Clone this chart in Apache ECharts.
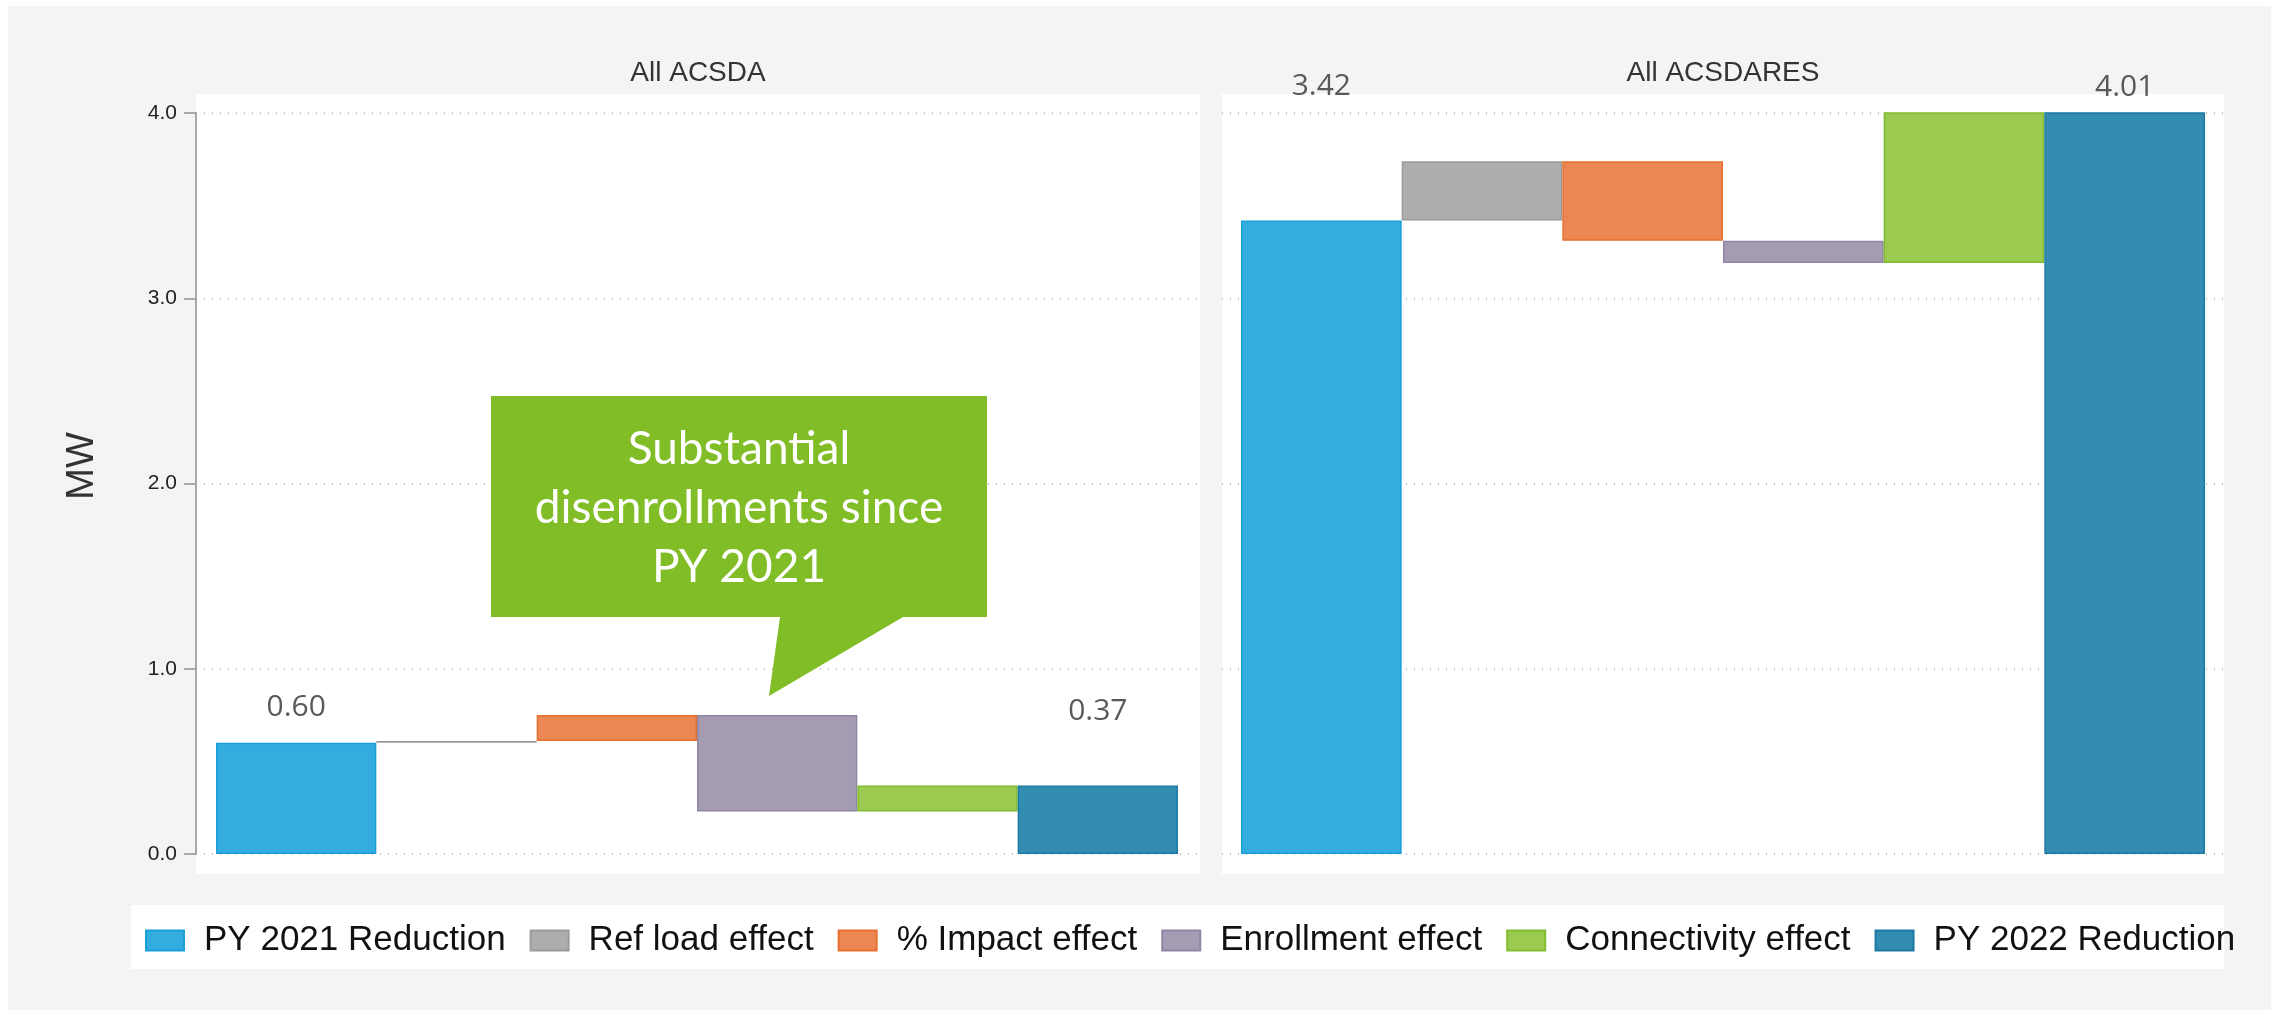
<!DOCTYPE html>
<html>
<head>
<meta charset="utf-8">
<style>
  html, body { margin: 0; padding: 0; background: #ffffff; }
  #chart { width: 2279px; height: 1012px; }
</style>
<script src="https://cdn.jsdelivr.net/npm/echarts@6/dist/echarts.min.js"></script>
</head>
<body>
<div id="chart"></div>
<script>
// ---- data ----
const categories = ['PY 2021 Reduction', 'Ref load effect', '% Impact effect', 'Enrollment effect', 'Connectivity effect', 'PY 2022 Reduction'];
const panelTitles = ['All ACSDA', 'All ACSDARES'];
// first and last entries are totals, the ones between are step changes (MW)
const acsdaValues = [0.60, 0.01, 0.14, -0.52, 0.14, 0.37];
const acsdaresValues = [3.42, 0.32, -0.43, -0.12, 0.82, 4.01];
const yTicks = [0, 1, 2, 3, 4];
const yAxisTitle = 'MW';
const calloutLines = ['Substantial', 'disenrollments since', 'PY 2021'];

// ---- styles ----
const fills   = ['#33ADDF', '#ADADAD', '#EB8752', '#A59CB4', '#9ACB50', '#338DB2'];
const borders = ['#1A9FD9', '#9B9B9B', '#E8702F', '#8F86A3', '#82BC30', '#1D7AA3'];
const totalLabelDistance = [[20, 59], [119, 10]]; // px gap above first / last total bar
const labelFont = 'Open Sans';
const sansFont = 'Liberation Sans';

// turn a list of totals/steps into floating-bar bases and heights
function waterfall(values) {
  const base = [], size = [];
  let level = 0;
  values.forEach((v, i) => {
    if (i === 0 || i === values.length - 1) {
      base.push(0); size.push(v); level = v;
    } else {
      const next = level + v;
      base.push(Math.min(level, next));
      size.push(Math.abs(v));
      level = next;
    }
  });
  return { base, size };
}

const panels = [
  { values: acsdaValues,    lineLeft: 196,  lineWidth: 1004, barLeft: 216,  barWidth: 962 },
  { values: acsdaresValues, lineLeft: 1222, lineWidth: 1002, barLeft: 1241, barWidth: 964 }
];

const gridTop = 113, gridBottom = 1012 - 854;
const grids = [], xAxes = [], yAxes = [], series = [];

panels.forEach((p, pi) => {
  // grid holding the gridlines (spans the white panel)
  const gLine = grids.length;
  grids.push({ left: p.lineLeft, width: p.lineWidth, top: gridTop, bottom: gridBottom, containLabel: false });
  xAxes.push({ gridIndex: gLine, type: 'value', min: 0, max: 1, show: false });
  yAxes.push({
    gridIndex: gLine, type: 'value', min: yTicks[0], max: yTicks[yTicks.length - 1], interval: 1,
    axisLine: { show: pi === 0, lineStyle: { color: '#A8A8A8', width: 2 } },
    axisTick: { show: pi === 0, length: 12, lineStyle: { color: '#A8A8A8', width: 2 } },
    axisLabel: {
      show: pi === 0, margin: 19, color: '#222', fontSize: 21, fontFamily: sansFont,
      formatter: v => v.toFixed(1)
    },
    splitLine: { show: true, lineStyle: { color: '#BDBDBD', width: 2, type: [1, 7] } }
  });

  // grid holding the floating bars
  const gBar = grids.length;
  grids.push({ left: p.barLeft, width: p.barWidth, top: gridTop, bottom: gridBottom, containLabel: false });
  xAxes.push({ gridIndex: gBar, type: 'category', data: categories, show: false, boundaryGap: true });
  yAxes.push({ gridIndex: gBar, type: 'value', min: yTicks[0], max: yTicks[yTicks.length - 1], interval: 1, show: false, splitLine: { show: false } });

  const wf = waterfall(p.values);
  const stackId = 'wf' + pi;
  series.push({
    type: 'bar', xAxisIndex: gBar, yAxisIndex: gBar, stack: stackId, silent: true,
    barCategoryGap: '0%', itemStyle: { color: 'transparent' }, data: wf.base, z: 2
  });
  categories.forEach((name, k) => {
    const isTotal = k === 0 || k === categories.length - 1;
    const data = categories.map((_, i) => {
      if (i !== k) return '-';
      const item = { value: wf.size[i] };
      if (isTotal) {
        item.label = {
          show: true, position: 'top',
          distance: totalLabelDistance[pi][k === 0 ? 0 : 1],
          formatter: () => p.values[i].toFixed(2),
          color: '#595959', fontSize: 30, fontFamily: labelFont
        };
      }
      return item;
    });
    series.push({
      name, type: 'bar', xAxisIndex: gBar, yAxisIndex: gBar, stack: stackId,
      barCategoryGap: '0%', z: 3,
      itemStyle: { color: fills[k], borderColor: borders[k], borderWidth: 1.5 },
      emphasis: { disabled: true },
      data
    });
  });
});

const graphics = [
  // page backdrop
  { type: 'rect', z: -100, shape: { x: 8, y: 6, width: 2263, height: 1004 }, style: { fill: '#F4F4F4' } },
  // white panels
  { type: 'rect', z: -90, shape: { x: 196, y: 94, width: 1004, height: 780 }, style: { fill: '#FFFFFF' } },
  { type: 'rect', z: -90, shape: { x: 1222, y: 94, width: 1002, height: 780 }, style: { fill: '#FFFFFF' } },
  // legend strip
  { type: 'rect', z: -90, shape: { x: 131, y: 905, width: 2093, height: 64 }, style: { fill: '#FFFFFF' } },
  // panel titles
  { type: 'text', z: 10, x: 698, y: 73, style: { text: panelTitles[0], fill: '#333', font: '28px "' + sansFont + '"', align: 'center', verticalAlign: 'middle' } },
  { type: 'text', z: 10, x: 1723, y: 73, style: { text: panelTitles[1], fill: '#333', font: '28px "' + sansFont + '"', align: 'center', verticalAlign: 'middle' } },
  // y axis title
  { type: 'text', z: 10, x: 83, y: 466, rotation: Math.PI / 2, style: { text: yAxisTitle, fill: '#333', font: '38px "' + sansFont + '"', align: 'center', verticalAlign: 'middle' } },
  // callout bubble
  {
    type: 'polygon', z: 50,
    shape: { points: [[491, 396], [987, 396], [987, 617], [903, 617], [769, 696], [780, 617], [491, 617]] },
    style: { fill: '#80BD27' }
  },
  {
    type: 'text', z: 51, x: 739, y: 508,
    style: {
      text: calloutLines.join('\n'), fill: '#FFFFFF', font: '46px Lato', lineHeight: 59,
      align: 'center', verticalAlign: 'middle'
    }
  }
];

const chart = echarts.init(document.getElementById('chart'), null, { renderer: 'canvas' });
chart.setOption({
  backgroundColor: '#FFFFFF',
  animation: false,
  grid: grids,
  xAxis: xAxes,
  yAxis: yAxes,
  legend: {
    data: categories, left: 145, top: 923, padding: 0,
    itemWidth: 38, itemHeight: 20, itemGap: 24, icon: 'rect', selectedMode: false,
    textStyle: { fontFamily: sansFont, fontSize: 35, color: '#111', padding: [0, 0, 0, 15] }
  },
  graphic: graphics,
  series
});
</script>
</body>
</html>
